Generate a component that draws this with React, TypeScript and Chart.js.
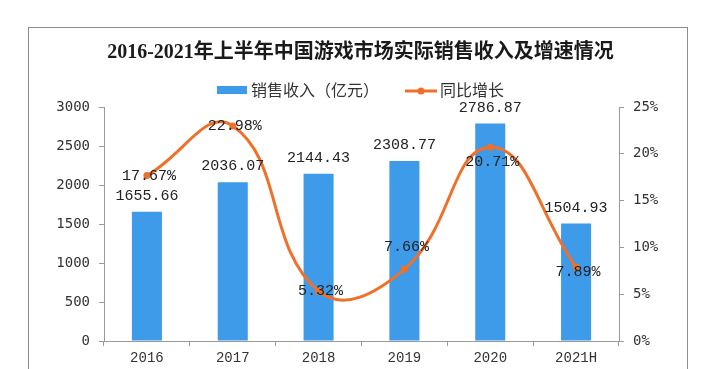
import React, { useEffect, useRef } from "react";
import { Chart, registerables } from "chart.js";

Chart.register(...registerables);

const categories = ["2016", "2017", "2018", "2019", "2020", "2021H"];
const revenue = [1655.66, 2036.07, 2144.43, 2308.77, 2786.87, 1504.93];
const growth = [17.67, 22.98, 5.32, 7.66, 20.71, 7.89];
const titleText = "2016-2021年上半年中国游戏市场实际销售收入及增速情况";
const revenueLabel = "销售收入（亿元）";
const growthLabel = "同比增长";

const BAR_COLOR = "#3D9BE9";
const LINE_COLOR = "#F0702A";
const AXIS_COLOR = "#9a9a9a";
const TEXT_COLOR = "#333333";
const MONO = '"Liberation Mono", "DejaVu Sans Mono", monospace';
const CJK = '"Noto Sans CJK SC", "Noto Sans", sans-serif';

const framePlugin = {
  id: "frame",
  beforeDraw(chart: any) {
    const { ctx, width, height } = chart;
    ctx.save();
    ctx.fillStyle = "#ffffff";
    ctx.fillRect(0, 0, width, height);
    ctx.strokeStyle = "#8c8c8c";
    ctx.lineWidth = 1;
    ctx.strokeRect(28.5, 27.5, 659, height + 10);
    ctx.restore();
  },
};

const legendPlugin = {
  id: "customLegend",
  afterDraw(chart: any) {
    const { ctx } = chart;
    const cx = chart.width / 2;
    const y = 90;
    ctx.save();
    ctx.font = `16px ${CJK}`;
    ctx.textBaseline = "middle";
    ctx.textAlign = "left";
    const w1 = ctx.measureText(revenueLabel).width;
    const w2 = ctx.measureText(growthLabel).width;
    const total = 30 + 4 + w1 + 26 + 32 + 3 + w2;
    let x = cx - total / 2;
    ctx.fillStyle = BAR_COLOR;
    ctx.fillRect(x, y - 4, 30, 8);
    x += 34;
    ctx.fillStyle = TEXT_COLOR;
    ctx.fillText(revenueLabel, x, y);
    x += w1 + 26;
    ctx.strokeStyle = LINE_COLOR;
    ctx.lineWidth = 3;
    ctx.beginPath();
    ctx.moveTo(x, y + 1);
    ctx.lineTo(x + 32, y + 1);
    ctx.stroke();
    ctx.fillStyle = LINE_COLOR;
    ctx.beginPath();
    ctx.arc(x + 16, y + 1, 3.5, 0, Math.PI * 2);
    ctx.fill();
    x += 35;
    ctx.fillStyle = TEXT_COLOR;
    ctx.fillText(growthLabel, x, y);
    ctx.restore();
  },
};

const growthOffsets = [0, 0, 0, -22, 15, 5];

const labelPlugin = {
  id: "valueLabels",
  afterDatasetsDraw(chart: any) {
    const { ctx } = chart;
    ctx.save();
    ctx.font = `15px ${MONO}`;
    ctx.fillStyle = "#222222";
    ctx.textAlign = "center";
    ctx.textBaseline = "middle";
    const barMeta = chart.getDatasetMeta(0);
    barMeta.data.forEach((el: any, i: number) => {
      ctx.fillText(revenue[i].toFixed(2), el.x, el.y - 16);
    });
    const lineMeta = chart.getDatasetMeta(1);
    lineMeta.data.forEach((el: any, i: number) => {
      ctx.fillText(growth[i].toFixed(2) + "%", el.x + 2, el.y + growthOffsets[i]);
    });
    ctx.restore();
  },
};

export default function App() {
  const ref = useRef<HTMLCanvasElement>(null);
  useEffect(() => {
    const chart = new Chart(ref.current as HTMLCanvasElement, {
      type: "bar",
      data: {
        labels: categories,
        datasets: [
          {
            type: "bar",
            label: revenueLabel,
            data: revenue,
            backgroundColor: BAR_COLOR,
            barPercentage: 0.35,
            categoryPercentage: 1,
            yAxisID: "y",
            order: 2,
          },
          {
            type: "line",
            label: growthLabel,
            data: growth,
            borderColor: LINE_COLOR,
            backgroundColor: LINE_COLOR,
            borderWidth: 3,
            pointRadius: 3.5,
            pointBorderWidth: 0,
            pointBackgroundColor: LINE_COLOR,
            tension: 0.45,
            yAxisID: "y1",
            order: 1,
          },
        ] as any,
      },
      options: {
        animation: false,
        responsive: true,
        maintainAspectRatio: false,
        layout: { padding: { left: 0, right: 0, top: 0, bottom: 0 } },
        plugins: {
          legend: { display: false },
          tooltip: { enabled: false },
          title: {
            display: true,
            text: titleText,
            color: "#1a1a1a",
            font: { size: 20, weight: "bold", family: '"Liberation Serif", "Noto Sans CJK SC", serif', lineHeight: 1.2 },
            padding: { top: 41, bottom: 42 },
          },
        },
        scales: {
          x: {
            type: "category",
            offset: true,
            grid: { display: true, drawOnChartArea: false, drawTicks: true, tickLength: 5, offset: true, color: AXIS_COLOR },
            border: { display: true, color: AXIS_COLOR },
            ticks: { color: TEXT_COLOR, font: { size: 14, family: MONO }, padding: 4, maxRotation: 0 },
            afterFit(scale: any) {
              scale.height = 28;
            },
          },
          y: {
            position: "left",
            min: 0,
            max: 3000,
            ticks: {
              stepSize: 500,
              color: TEXT_COLOR,
              font: { size: 14, family: '"DejaVu Sans Mono", monospace' },
              padding: 9,
              callback: (v: any) => String(v),
            },
            grid: { display: true, drawOnChartArea: false, drawTicks: true, tickLength: 5, color: AXIS_COLOR },
            border: { display: true, color: AXIS_COLOR },
            afterFit(scale: any) {
              scale.width = 104;
            },
          },
          y1: {
            position: "right",
            min: 0,
            max: 25,
            ticks: {
              stepSize: 5,
              color: TEXT_COLOR,
              font: { size: 14, family: '"DejaVu Sans Mono", monospace' },
              padding: 9,
              callback: (v: any) => v + "%",
            },
            grid: { display: true, drawOnChartArea: false, drawTicks: true, tickLength: 5, color: AXIS_COLOR },
            border: { display: true, color: AXIS_COLOR },
            afterFit(scale: any) {
              scale.width = 102;
            },
          },
        },
      } as any,
      plugins: [framePlugin, legendPlugin, labelPlugin],
    });
    return () => chart.destroy();
  }, []);
  return (
    <div style={{ position: "fixed", left: 0, top: 0, width: 721, height: 369, background: "#fff" }}>
      <canvas ref={ref} />
    </div>
  );
}
